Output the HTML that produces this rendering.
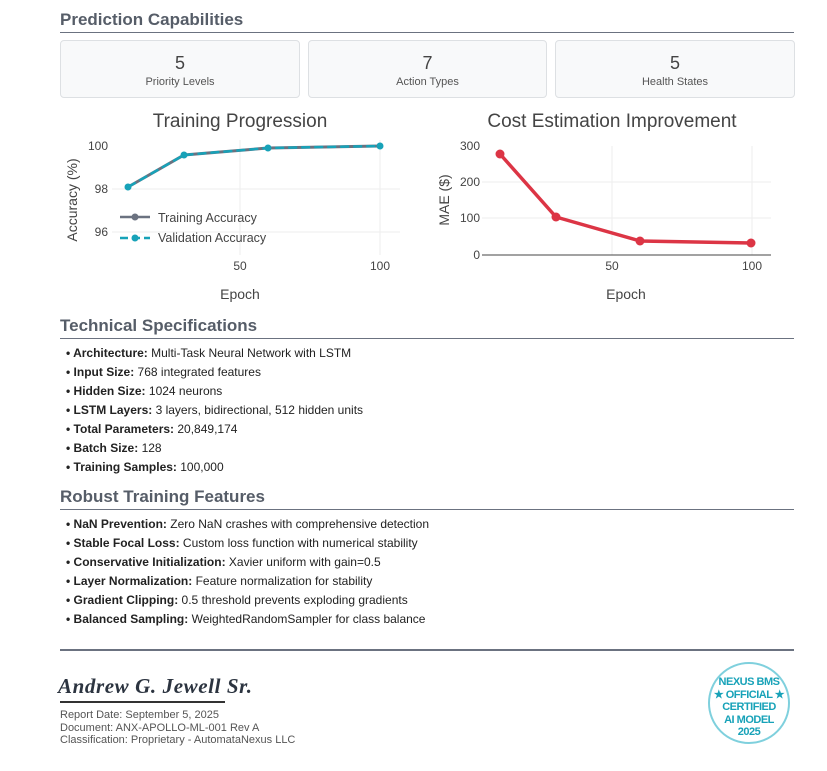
<!DOCTYPE html>
<html><head><meta charset="utf-8"><style>
body{margin:0;background:#fff;font-family:"Liberation Sans",sans-serif;color:#222;}
.h{position:absolute;left:60px;width:734px;font-weight:bold;font-size:17px;color:#565d68;border-bottom:1.5px solid #6b7280;padding-bottom:2px;}
.card{position:absolute;top:40px;height:56px;background:#f8f9fa;border:1px solid #dde0e3;border-radius:4px;text-align:center;}
.card .n{font-size:18px;color:#444;margin-top:12px;}
.card .l{font-size:11px;color:#555;margin-top:2px;}
ul{position:absolute;left:66px;margin:0;padding:0;list-style:none;font-size:12px;}
li{height:19px;line-height:19px;}
li:before{content:"• ";font-weight:bold;}
.foot{position:absolute;left:60px;font-size:11px;color:#555;line-height:12.5px;}
</style></head><body>
<div class="h" style="top:10px">Prediction Capabilities</div>
<div class="card" style="left:60px;width:238px"><div class="n">5</div><div class="l">Priority Levels</div></div>
<div class="card" style="left:308px;width:237px"><div class="n">7</div><div class="l">Action Types</div></div>
<div class="card" style="left:555px;width:238px"><div class="n">5</div><div class="l">Health States</div></div>

<svg style="position:absolute;left:0;top:0" width="827" height="320" font-family="Liberation Sans, sans-serif">
<text x="240" y="127" font-size="19" fill="#444" text-anchor="middle">Training Progression</text>
<g stroke="#eee" stroke-width="1"><line x1="112" y1="189" x2="400" y2="189"/><line x1="112" y1="232" x2="400" y2="232"/><line x1="240" y1="140" x2="240" y2="255"/><line x1="380" y1="140" x2="380" y2="255"/></g>
<g font-size="12" fill="#444" text-anchor="end"><text x="108" y="150">100</text><text x="108" y="193">98</text><text x="108" y="236">96</text></g>
<g font-size="12" fill="#444" text-anchor="middle"><text x="240" y="270">50</text><text x="380" y="270">100</text></g>
<text x="240" y="299" font-size="14" fill="#444" text-anchor="middle">Epoch</text>
<text transform="translate(77,200) rotate(-90)" font-size="14" fill="#444" text-anchor="middle">Accuracy (%)</text>
<polyline points="128,187 184,155 268,148 380,146" fill="none" stroke="#6b7280" stroke-width="3"/>
<polyline points="128,187 184,155 268,148 380,146" fill="none" stroke="#17a2b8" stroke-width="2.5" stroke-dasharray="9,4"/>
<g fill="#17a2b8"><circle cx="128" cy="187" r="3.5"/><circle cx="184" cy="155" r="3.5"/><circle cx="268" cy="148" r="3.5"/><circle cx="380" cy="146" r="3.5"/></g>
<line x1="120" y1="217" x2="150" y2="217" stroke="#6b7280" stroke-width="2.5"/><circle cx="135" cy="217" r="3.5" fill="#6b7280"/>
<line x1="120" y1="238" x2="150" y2="238" stroke="#17a2b8" stroke-width="2.5" stroke-dasharray="8,4"/><circle cx="135" cy="238" r="3.5" fill="#17a2b8"/>
<text x="158" y="222" font-size="12.5" fill="#444">Training Accuracy</text>
<text x="158" y="242" font-size="12.5" fill="#444">Validation Accuracy</text>

<text x="612" y="127" font-size="19" fill="#444" text-anchor="middle">Cost Estimation Improvement</text>
<g stroke="#eee" stroke-width="1"><line x1="482" y1="182" x2="771" y2="182"/><line x1="482" y1="218" x2="771" y2="218"/><line x1="612" y1="146" x2="612" y2="255"/><line x1="752" y1="146" x2="752" y2="255"/></g>
<line x1="482" y1="255" x2="771" y2="255" stroke="#444" stroke-width="1"/>
<g font-size="12" fill="#444" text-anchor="end"><text x="480" y="150">300</text><text x="480" y="186">200</text><text x="480" y="222">100</text><text x="480" y="259">0</text></g>
<g font-size="12" fill="#444" text-anchor="middle"><text x="612" y="270">50</text><text x="752" y="270">100</text></g>
<text x="626" y="299" font-size="14" fill="#444" text-anchor="middle">Epoch</text>
<text transform="translate(449,200) rotate(-90)" font-size="14" fill="#444" text-anchor="middle">MAE ($)</text>
<polyline points="500,154 556,217 640,241 751,243" fill="none" stroke="#dc3545" stroke-width="3.5"/>
<g fill="#dc3545"><circle cx="500" cy="154" r="4.5"/><circle cx="556" cy="217" r="4.5"/><circle cx="640" cy="241" r="4.5"/><circle cx="751" cy="243" r="4.5"/></g>
</svg>

<div class="h" style="top:316px">Technical Specifications</div>
<ul style="top:344px">
<li><b>Architecture:</b> Multi-Task Neural Network with LSTM</li>
<li><b>Input Size:</b> 768 integrated features</li>
<li><b>Hidden Size:</b> 1024 neurons</li>
<li><b>LSTM Layers:</b> 3 layers, bidirectional, 512 hidden units</li>
<li><b>Total Parameters:</b> 20,849,174</li>
<li><b>Batch Size:</b> 128</li>
<li><b>Training Samples:</b> 100,000</li>
</ul>
<div class="h" style="top:487px">Robust Training Features</div>
<ul style="top:515px">
<li><b>NaN Prevention:</b> Zero NaN crashes with comprehensive detection</li>
<li><b>Stable Focal Loss:</b> Custom loss function with numerical stability</li>
<li><b>Conservative Initialization:</b> Xavier uniform with gain=0.5</li>
<li><b>Layer Normalization:</b> Feature normalization for stability</li>
<li><b>Gradient Clipping:</b> 0.5 threshold prevents exploding gradients</li>
<li><b>Balanced Sampling:</b> WeightedRandomSampler for class balance</li>
</ul>
<div style="position:absolute;left:60px;top:649px;width:734px;border-top:2px solid #6b7280"></div>
<div style="position:absolute;left:58px;top:674px;font-family:'Liberation Serif',serif;font-style:italic;font-weight:bold;font-size:21px;color:#2c3440;letter-spacing:0.6px">Andrew G. Jewell Sr.</div>
<div style="position:absolute;left:60px;top:701px;width:165px;border-top:2px solid #333"></div>
<div class="foot" style="top:709px">Report Date: September 5, 2025<br>Document: ANX-APOLLO-ML-001 Rev A<br>Classification: Proprietary - AutomataNexus LLC</div>
<div style="position:absolute;left:708px;top:662px;width:82px;height:82px;border:2px solid #7fd0dd;border-radius:50%;text-align:center;font-weight:bold;font-size:11px;line-height:12.5px;color:#17a2b8;box-sizing:border-box;padding-top:12px;letter-spacing:-0.5px">NEXUS BMS<br>★ OFFICIAL ★<br>CERTIFIED<br>AI MODEL<br>2025</div>
</body></html>
